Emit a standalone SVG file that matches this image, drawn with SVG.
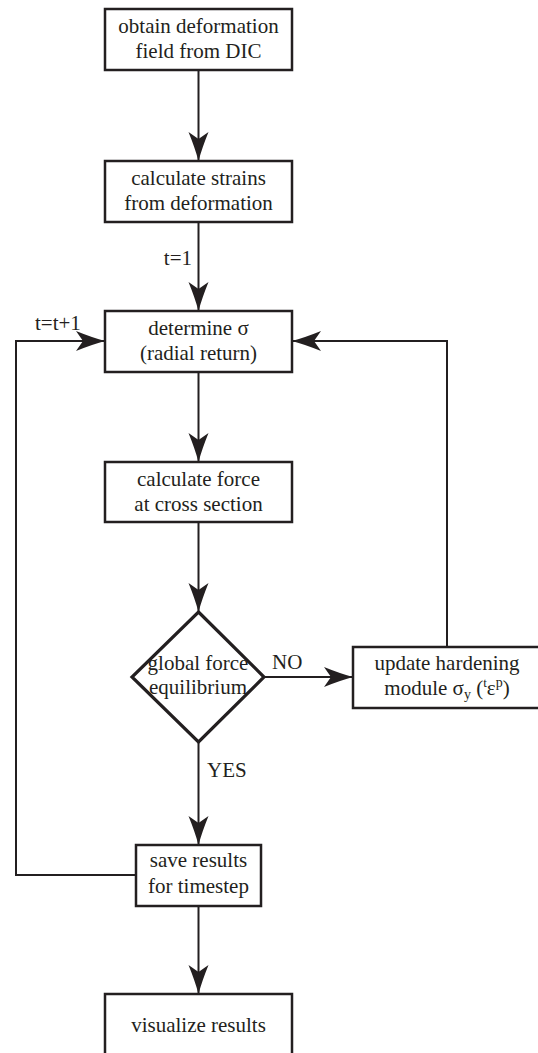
<svg xmlns="http://www.w3.org/2000/svg" width="538" height="1053" viewBox="0 0 538 1053">
<style>
.box{fill:#fff;stroke:#231f20;stroke-width:2.5}
.dia{fill:#fff;stroke:#231f20;stroke-width:3.2;stroke-linejoin:miter}
.ln{fill:none;stroke:#231f20;stroke-width:2}
.t{font-family:'Liberation Serif','Times New Roman',Times,serif;font-size:21px;fill:#231f20}
.c{text-anchor:middle}
</style>
<defs>
<marker id="ah" markerUnits="userSpaceOnUse" markerWidth="32" markerHeight="24" refX="29" refY="11" orient="auto" viewBox="0 0 32 24">
<path d="M29,11 Q16,7.5 0,1 L7,11 L0,21 Q16,14.5 29,11 Z" fill="#231f20"/>
</marker>
</defs>
<rect width="538" height="1053" fill="#fff"/>
<g id="connectors">
<line class="ln" x1="198.5" y1="70" x2="198.5" y2="161" marker-end="url(#ah)"/>
<line class="ln" x1="198.5" y1="222" x2="198.5" y2="311" marker-end="url(#ah)"/>
<line class="ln" x1="198.5" y1="372" x2="198.5" y2="462" marker-end="url(#ah)"/>
<line class="ln" x1="198.5" y1="522" x2="198.5" y2="612" marker-end="url(#ah)"/>
<line class="ln" x1="264" y1="677" x2="353" y2="677" marker-end="url(#ah)"/>
<polyline class="ln" points="447,647 447,341 292,341" marker-end="url(#ah)"/>
<line class="ln" x1="198.5" y1="742" x2="198.5" y2="845" marker-end="url(#ah)"/>
<polyline class="ln" points="136,875 16,875 16,341 105,341" marker-end="url(#ah)"/>
<line class="ln" x1="198.5" y1="906" x2="198.5" y2="994" marker-end="url(#ah)"/>
<text class="t" x="192" y="265" text-anchor="end">t=1</text>
<text class="t" x="35" y="330">t=t+1</text>
<text class="t" x="272" y="669">NO</text>
<text class="t" x="207" y="777">YES</text>
</g>
<g id="n1" class="t"><rect class="box" x="105" y="9" width="187" height="61"/>
<text class="c" x="198.5" y="33">obtain deformation</text><text class="c" x="198.5" y="58">field from DIC</text></g>
<g id="n2" class="t"><rect class="box" x="105" y="161" width="187" height="61"/>
<text class="c" x="198.5" y="185">calculate strains</text><text class="c" x="198.5" y="210">from deformation</text></g>
<g id="n3" class="t"><rect class="box" x="105" y="311" width="187" height="61"/>
<text class="c" x="198.5" y="335">determine σ</text><text class="c" x="198.5" y="360">(radial return)</text></g>
<g id="n4" class="t"><rect class="box" x="105" y="462" width="187" height="60"/>
<text class="c" x="198.5" y="486">calculate force</text><text class="c" x="198.5" y="511">at cross section</text></g>
<g id="n5" class="t"><polygon class="dia" points="198.5,612 264,677 198.5,742 132,677"/>
<text class="c" x="198" y="670">global force</text><text class="c" x="198" y="694">equilibrium</text></g>
<g id="n6" class="t"><rect class="box" x="353" y="647" width="190" height="61"/>
<text class="c" x="447" y="670">update hardening</text>
<text class="c" x="447" y="695">module σ<tspan font-size="14" dy="4">y</tspan><tspan dy="-4"> (</tspan><tspan font-size="13" dy="-8">t</tspan><tspan dy="8">ε</tspan><tspan font-size="14" dy="-8">p</tspan><tspan dy="8">)</tspan></text></g>
<g id="n7" class="t"><rect class="box" x="136" y="845" width="125" height="61"/>
<text class="c" x="198.5" y="867">save results</text><text class="c" x="198.5" y="893">for timestep</text></g>
<g id="n8" class="t"><rect class="box" x="105" y="994" width="187" height="75"/>
<text class="c" x="198.5" y="1032">visualize results</text></g>
</svg>
